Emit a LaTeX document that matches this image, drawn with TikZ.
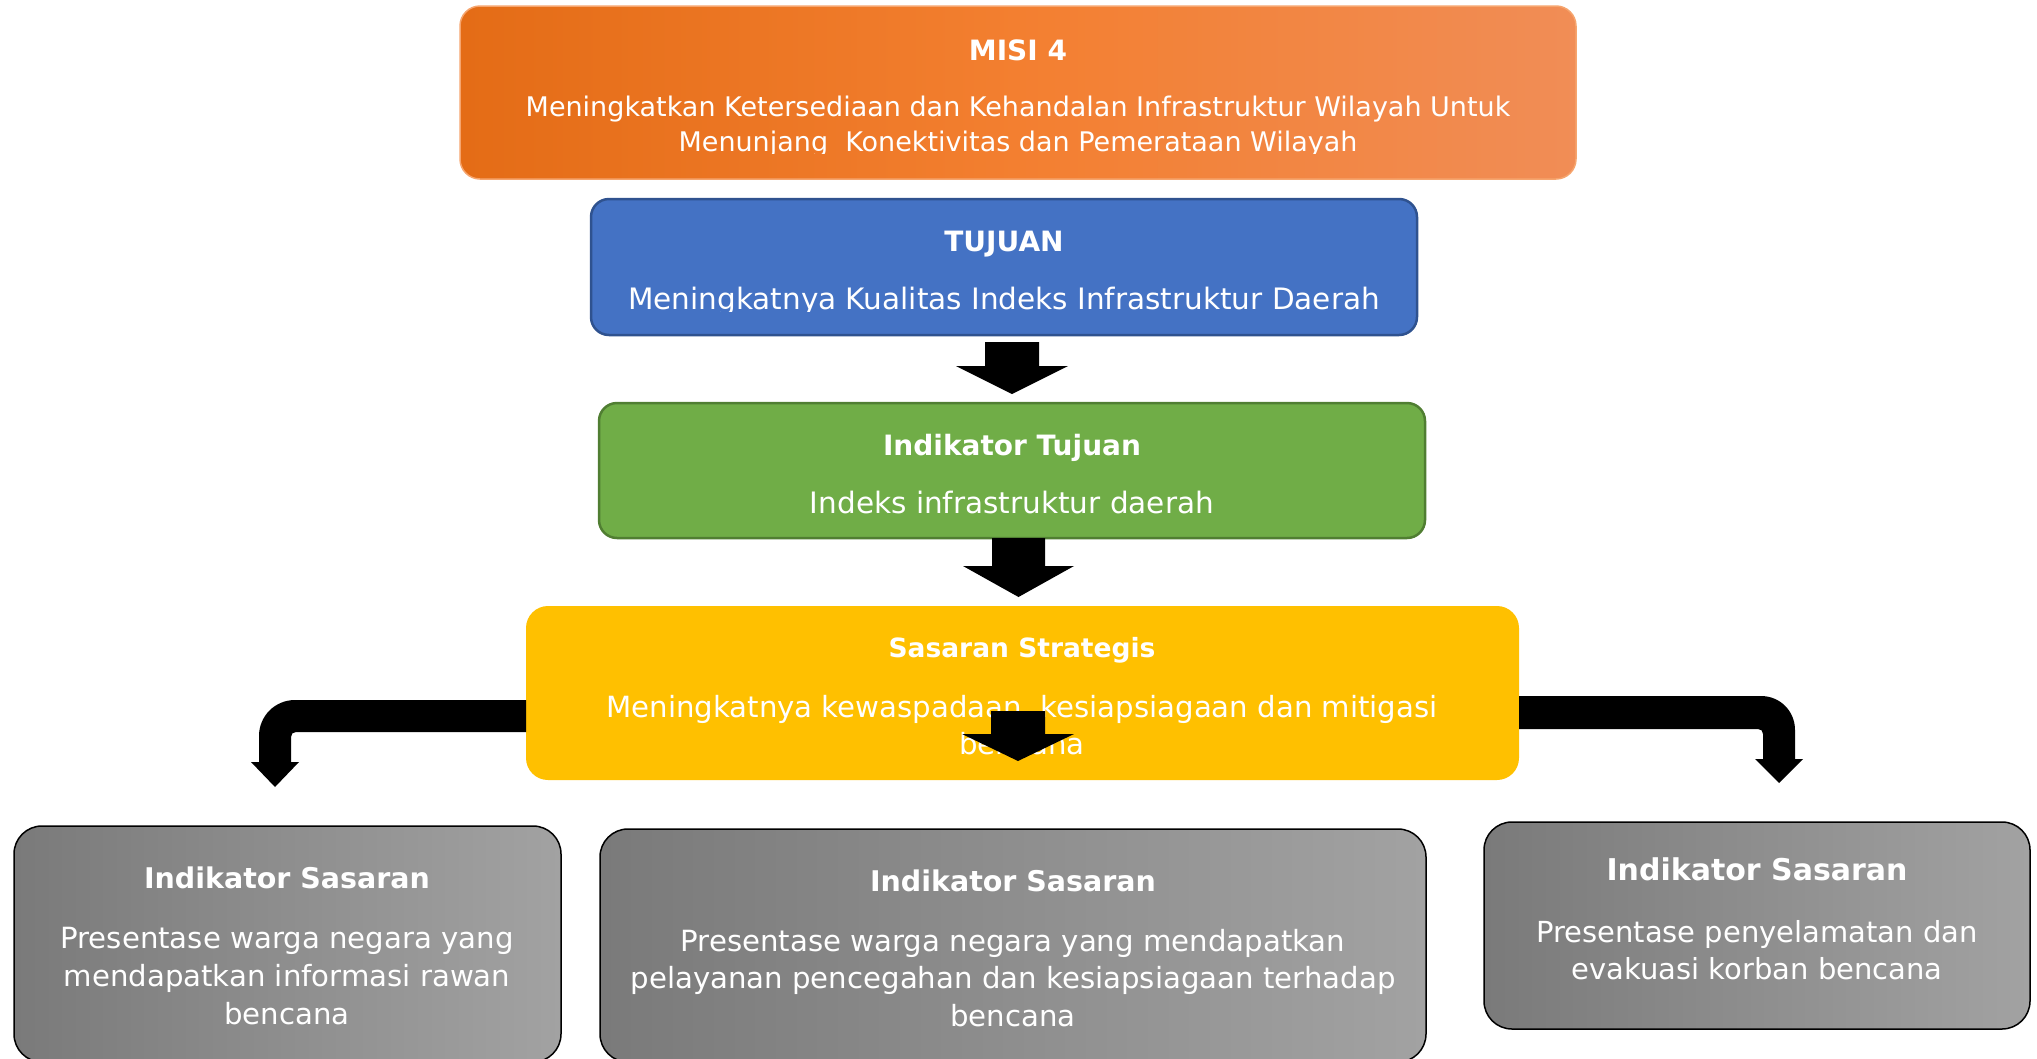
\documentclass[tikz,border=0pt]{standalone}
\usepackage{fontspec}
\setmainfont{DejaVu Sans}
\usetikzlibrary{calc}
\definecolor{orL}{RGB}{228,108,22}
\definecolor{orM}{RGB}{243,127,48}
\definecolor{orR}{RGB}{241,141,86}
\definecolor{orB}{RGB}{246,165,110}
\definecolor{blF}{HTML}{4472C4}
\definecolor{blB}{HTML}{2F528F}
\definecolor{grF}{HTML}{70AD47}
\definecolor{grB}{HTML}{507E32}
\definecolor{yeF}{HTML}{FFC000}
\definecolor{gyL}{RGB}{122,122,122}
\definecolor{gyR}{RGB}{162,162,162}
\begin{document}
\begin{tikzpicture}[x=1pt,y=-1pt,
  box/.style={rectangle,rounded corners=20pt,inner sep=0pt,outer sep=0pt},
  greybox/.style={box,rounded corners=28pt,left color=gyL,right color=gyR,draw=black,line width=1.5pt},
  ttl/.style={text=white,anchor=base,inner sep=0pt,font=\bfseries\fontsize{28}{34}\selectfont},
  bdy/.style={text=white,anchor=base,inner sep=0pt,font=\fontsize{29.5}{38}\selectfont},
  blk/.style={fill=black},
]
\useasboundingbox (0,0) rectangle (2037,1058);
\begin{scope}
\clip (0,0) rectangle (2037,1058);

% ---------- boxes ----------
\node[box,minimum width=1116pt,minimum height=173pt,left color=orL,right color=orR,middle color=orM,draw=orB,line width=1.5pt] (misi) at (1018,92.5) {};
\node[box,rounded corners=18pt,minimum width=826pt,minimum height=136pt,fill=blF,draw=blB,line width=2.5pt] (tujuan) at (1004,267) {};
\node[box,rounded corners=18pt,minimum width=826pt,minimum height=135pt,fill=grF,draw=grB,line width=2.5pt] (indtuj) at (1012,470.5) {};
\node[box,rounded corners=22pt,minimum width=993pt,minimum height=174pt,fill=yeF] (sasaran) at (1022.5,693) {};
\node[greybox,minimum width=547pt,minimum height=236pt] (g1) at (287.5,944) {};
\node[greybox,minimum width=826pt,minimum height=233pt] (g2) at (1013,945.5) {};
\node[greybox,minimum width=546pt,minimum height=207pt] (g3) at (1757,925.5) {};

% ---------- texts ----------
\node[ttl] (mt) at (1018,60) {MISI 4};
\node[bdy,font=\fontsize{27}{35}\selectfont] (mb1) at (1018,116) {Meningkatkan Ketersediaan dan Kehandalan Infrastruktur Wilayah Untuk};
\begin{scope}
  \clip (460,120) rectangle (1576,153);
  \node[bdy,font=\fontsize{27}{35}\selectfont] (mb2) at (1018,151) {Menunjang\ \ Konektivitas dan Pemerataan Wilayah};
\end{scope}

\node[ttl] (tt) at (1004,251) {TUJUAN};
\begin{scope}
  \clip (591,199) rectangle (1417,311.5);
  \node[bdy] (tb) at (1004,309.5) {Meningkatnya Kualitas Indeks Infrastruktur Daerah};
\end{scope}

\node[ttl] (it) at (1012,455) {Indikator Tujuan};
\node[bdy] (ib) at (1012,513) {Indeks infrastruktur daerah};

\node[ttl,font=\bfseries\fontsize{26.5}{32}\selectfont] (st) at (1022,657) {Sasaran Strategis};
\node[bdy,font=\fontsize{29.2}{38}\selectfont] (sb1) at (1022,717) {Meningkatnya kewaspadaan,\ kesiapsiagaan dan mitigasi};
\node[bdy,font=\fontsize{29.2}{38}\selectfont] (sb2) at (1022,754) {bencana};

\node[ttl,font=\bfseries\fontsize{28.5}{34}\selectfont] (g1t) at (287,888) {Indikator Sasaran};
\node[bdy,font=\fontsize{29.2}{38}\selectfont] (g1a) at (287,948) {Presentase warga negara yang};
\node[bdy,font=\fontsize{29.2}{38}\selectfont] (g1b) at (287,986) {mendapatkan informasi rawan};
\node[bdy,font=\fontsize{29.2}{38}\selectfont] (g1c) at (287,1024) {bencana};

\node[ttl,font=\bfseries\fontsize{28.5}{34}\selectfont] (g2t) at (1013,891) {Indikator Sasaran};
\node[bdy,font=\fontsize{29.2}{38}\selectfont] (g2a) at (1013,951) {Presentase warga negara yang mendapatkan};
\node[bdy,font=\fontsize{29.2}{38}\selectfont] (g2b) at (1013,988) {pelayanan pencegahan dan kesiapsiagaan terhadap};
\node[bdy,font=\fontsize{29.2}{38}\selectfont] (g2c) at (1013,1026) {bencana};

\node[ttl,font=\bfseries\fontsize{30}{36}\selectfont] (g3t) at (1757,880) {Indikator Sasaran};
\node[bdy,font=\fontsize{29}{38}\selectfont] (g3a) at (1757,942) {Presentase penyelamatan dan};
\node[bdy,font=\fontsize{29}{38}\selectfont] (g3b) at (1757,979) {evakuasi korban bencana};

% ---------- straight block arrows ----------
\coordinate (a1s) at ($(tujuan.south)+(8,7)$);
\coordinate (a1e) at ($(indtuj.north)+(0,-9)$);
\fill[blk] ($(a1s)+(-27,0)$) -- ($(a1s)+(27,0)$) -- ($(a1s)+(27,24)$) -- ($(a1s)+(56,24)$)
  -- (a1s |- a1e) -- ($(a1s)+(-56,24)$) -- ($(a1s)+(-27,24)$) -- cycle;

\coordinate (a2s) at ($(indtuj.south)+(6.5,0)$);
\coordinate (a2e) at ($(sasaran.north)+(0,-9)$);
\fill[blk] ($(a2s)+(-26.5,0)$) -- ($(a2s)+(26.5,0)$) -- ($(a2s)+(26.5,28)$) -- ($(a2s)+(55.5,28)$)
  -- (a2s |- a2e) -- ($(a2s)+(-55.5,28)$) -- ($(a2s)+(-26.5,28)$) -- cycle;

\coordinate (a3s) at ($(sasaran.south)+(-4.5,-69)$);
\coordinate (a3e) at ($(sasaran.south)+(0,-19)$);
\fill[blk] ($(a3s)+(-27,0)$) -- ($(a3s)+(27,0)$) -- ($(a3s)+(27,23)$) -- ($(a3s)+(56,23)$)
  -- (a3s |- a3e) -- ($(a3s)+(-56,23)$) -- ($(a3s)+(-27,23)$) -- cycle;

% ---------- bent block arrows ----------
\coordinate (lb1) at ($(sasaran.west)+(0,7)$);
\coordinate (lb2) at ($(sasaran.west)+(0,39)$);
\coordinate (ltip) at ($(g1.north)+(-12.5,-39)$);
\coordinate (lc) at ($(ltip |- lb1)+(-16,0)$);
\fill[blk] (lb1) -- ($(lc)+(36,0)$) .. controls ($(lc)+(16,0)$) and ($(lc)+(0,16)$) .. ($(lc)+(0,36)$)
  -- ($(lc)+(0,62)$) -- ($(lc)+(-8,62)$) -- (ltip) -- ($(lc)+(40,62)$) -- ($(lc)+(32,62)$)
  -- ($(lc)+(32,37)$) .. controls ($(lc)+(32,34)$) and ($(lc)+(34,32)$) .. ($(lc)+(37,32)$)
  -- (lb2) -- cycle;

\coordinate (rb1) at ($(sasaran.east)+(0,3)$);
\coordinate (rb2) at ($(sasaran.east)+(0,36)$);
\coordinate (rtip) at ($(g3.north)+(22,-39)$);
\coordinate (rc) at ($(rtip |- rb1)+(16,0)$);
\fill[blk] (rb1) -- ($(rc)+(-34,0)$) .. controls ($(rc)+(-15,0)$) and ($(rc)+(0,15)$) .. ($(rc)+(0,34)$)
  -- ($(rc)+(0,63)$) -- ($(rc)+(8,63)$) -- (rtip) -- ($(rc)+(-40,63)$) -- ($(rc)+(-32,63)$)
  -- ($(rc)+(-32,38)$) .. controls ($(rc)+(-32,35)$) and ($(rc)+(-34,33)$) .. ($(rc)+(-37,33)$)
  -- (rb2) -- cycle;
\end{scope}
\end{tikzpicture}
\end{document}
